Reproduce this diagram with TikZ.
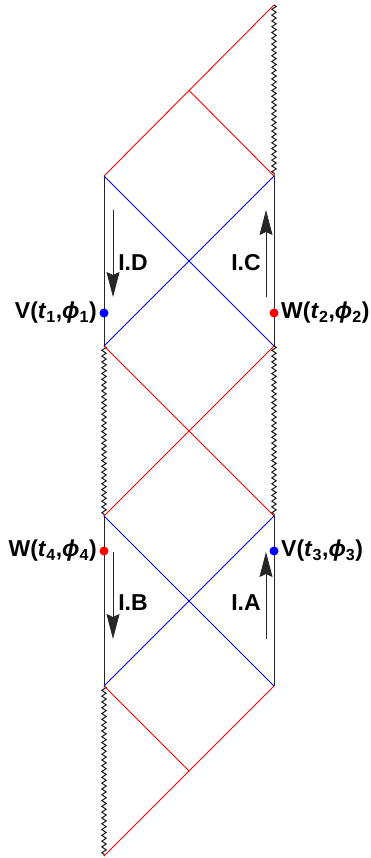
\documentclass[tikz,border=0pt]{standalone}
\usepackage{fontspec}
\setmainfont{Liberation Sans}
\usetikzlibrary{arrows.meta, positioning, calc, decorations.pathmorphing}

\newcommand{\oplabel}[2]{#1(\textit{t}\textsubscript{#2},\textit{ϕ}\textsubscript{#2})}

\begin{document}
\begin{tikzpicture}[x=1pt, y=-1pt, font=\fontsize{23}{27}\selectfont\bfseries,
  >={Stealth[length=25pt, width=13pt, inset=3pt]},
  wall/.style={line width=0.9pt, black!85},
  sing/.style={line width=1pt, black!90, decorate,
    decoration={zigzag, segment length=5.8pt, amplitude=2.2pt}},
  hor/.style={line width=0.9pt, blue},
  shell/.style={line width=0.9pt, red},
  op/.style={circle, inner sep=0pt, minimum size=9pt},
  flow/.style={->, line width=0.9pt, black!85}]
  \useasboundingbox (0,0) rectangle (371,858);

  % corners of the strip
  \coordinate (T) at (274,5);
  \coordinate (L1) at (104,176); \coordinate (R1) at (274,176);
  \coordinate (L2) at (104,346); \coordinate (R2) at (274,346);
  \coordinate (L3) at (104,516); \coordinate (R3) at (274,516);
  \coordinate (L4) at (104,686); \coordinate (R4) at (274,686);
  \coordinate (B) at (104,856);
  \coordinate (M1) at ($(L1)!0.5!(T)$);
  \coordinate (M2) at ($(R4)!0.5!(B)$);

  % singularities
  \draw[sing] (T) -- (R1);
  \draw[sing] (L2) -- (L3);
  \draw[sing] (R2) -- (R3);
  \draw[sing] (L4) -- (B);

  % boundaries
  \draw[wall] (L1) -- (L2);
  \draw[wall] (R1) -- (R2);
  \draw[wall] (L3) -- (L4);
  \draw[wall] (R3) -- (R4);

  % shells
  \draw[shell] (L1) -- (T);
  \draw[shell] (M1) -- (R1);
  \draw[shell] (L2) -- (R3);
  \draw[shell] (R2) -- (L3);
  \draw[shell] (L4) -- (M2);
  \draw[shell] (R4) -- (B);

  % horizons
  \draw[hor] (L1) -- (R2);
  \draw[hor] (R1) -- (L2);
  \draw[hor] (L3) -- (R4);
  \draw[hor] (R3) -- (L4);

  % operators
  \node[op, fill=blue] (V1) at (104,313) {};
  \node[op, fill=red] (W2) at (274,313) {};
  \node[op, fill=red] (W4) at (104,551) {};
  \node[op, fill=blue] (V3) at (274,551) {};
  \node[left=-1pt of V1] (V1l) {\oplabel{V}{1}};
  \node[right=-1pt of W2] (W2l) {\oplabel{W}{2}};
  \node[left=-1pt of W4] (W4l) {\oplabel{W}{4}};
  \node[right=-1pt of V3] (V3l) {\oplabel{V}{3}};

  % flows
  \coordinate (D0) at (113,210); \coordinate (D1) at (113,297);
  \coordinate (C0) at (266,297); \coordinate (C1) at (266,210);
  \coordinate (B0) at (113,552); \coordinate (B1) at (113,639);
  \coordinate (A0) at (266,639); \coordinate (A1) at (266,552);
  \draw[flow] (D0) -- (D1);
  \draw[flow] (C0) -- (C1);
  \draw[flow] (B0) -- (B1);
  \draw[flow] (A0) -- (A1);
  \node (ID) at (133,263) {I.D};
  \node (IC) at (246,263) {I.C};
  \node (IB) at (133,603) {I.B};
  \node (IA) at (246,603) {I.A};
\end{tikzpicture}
\end{document}
